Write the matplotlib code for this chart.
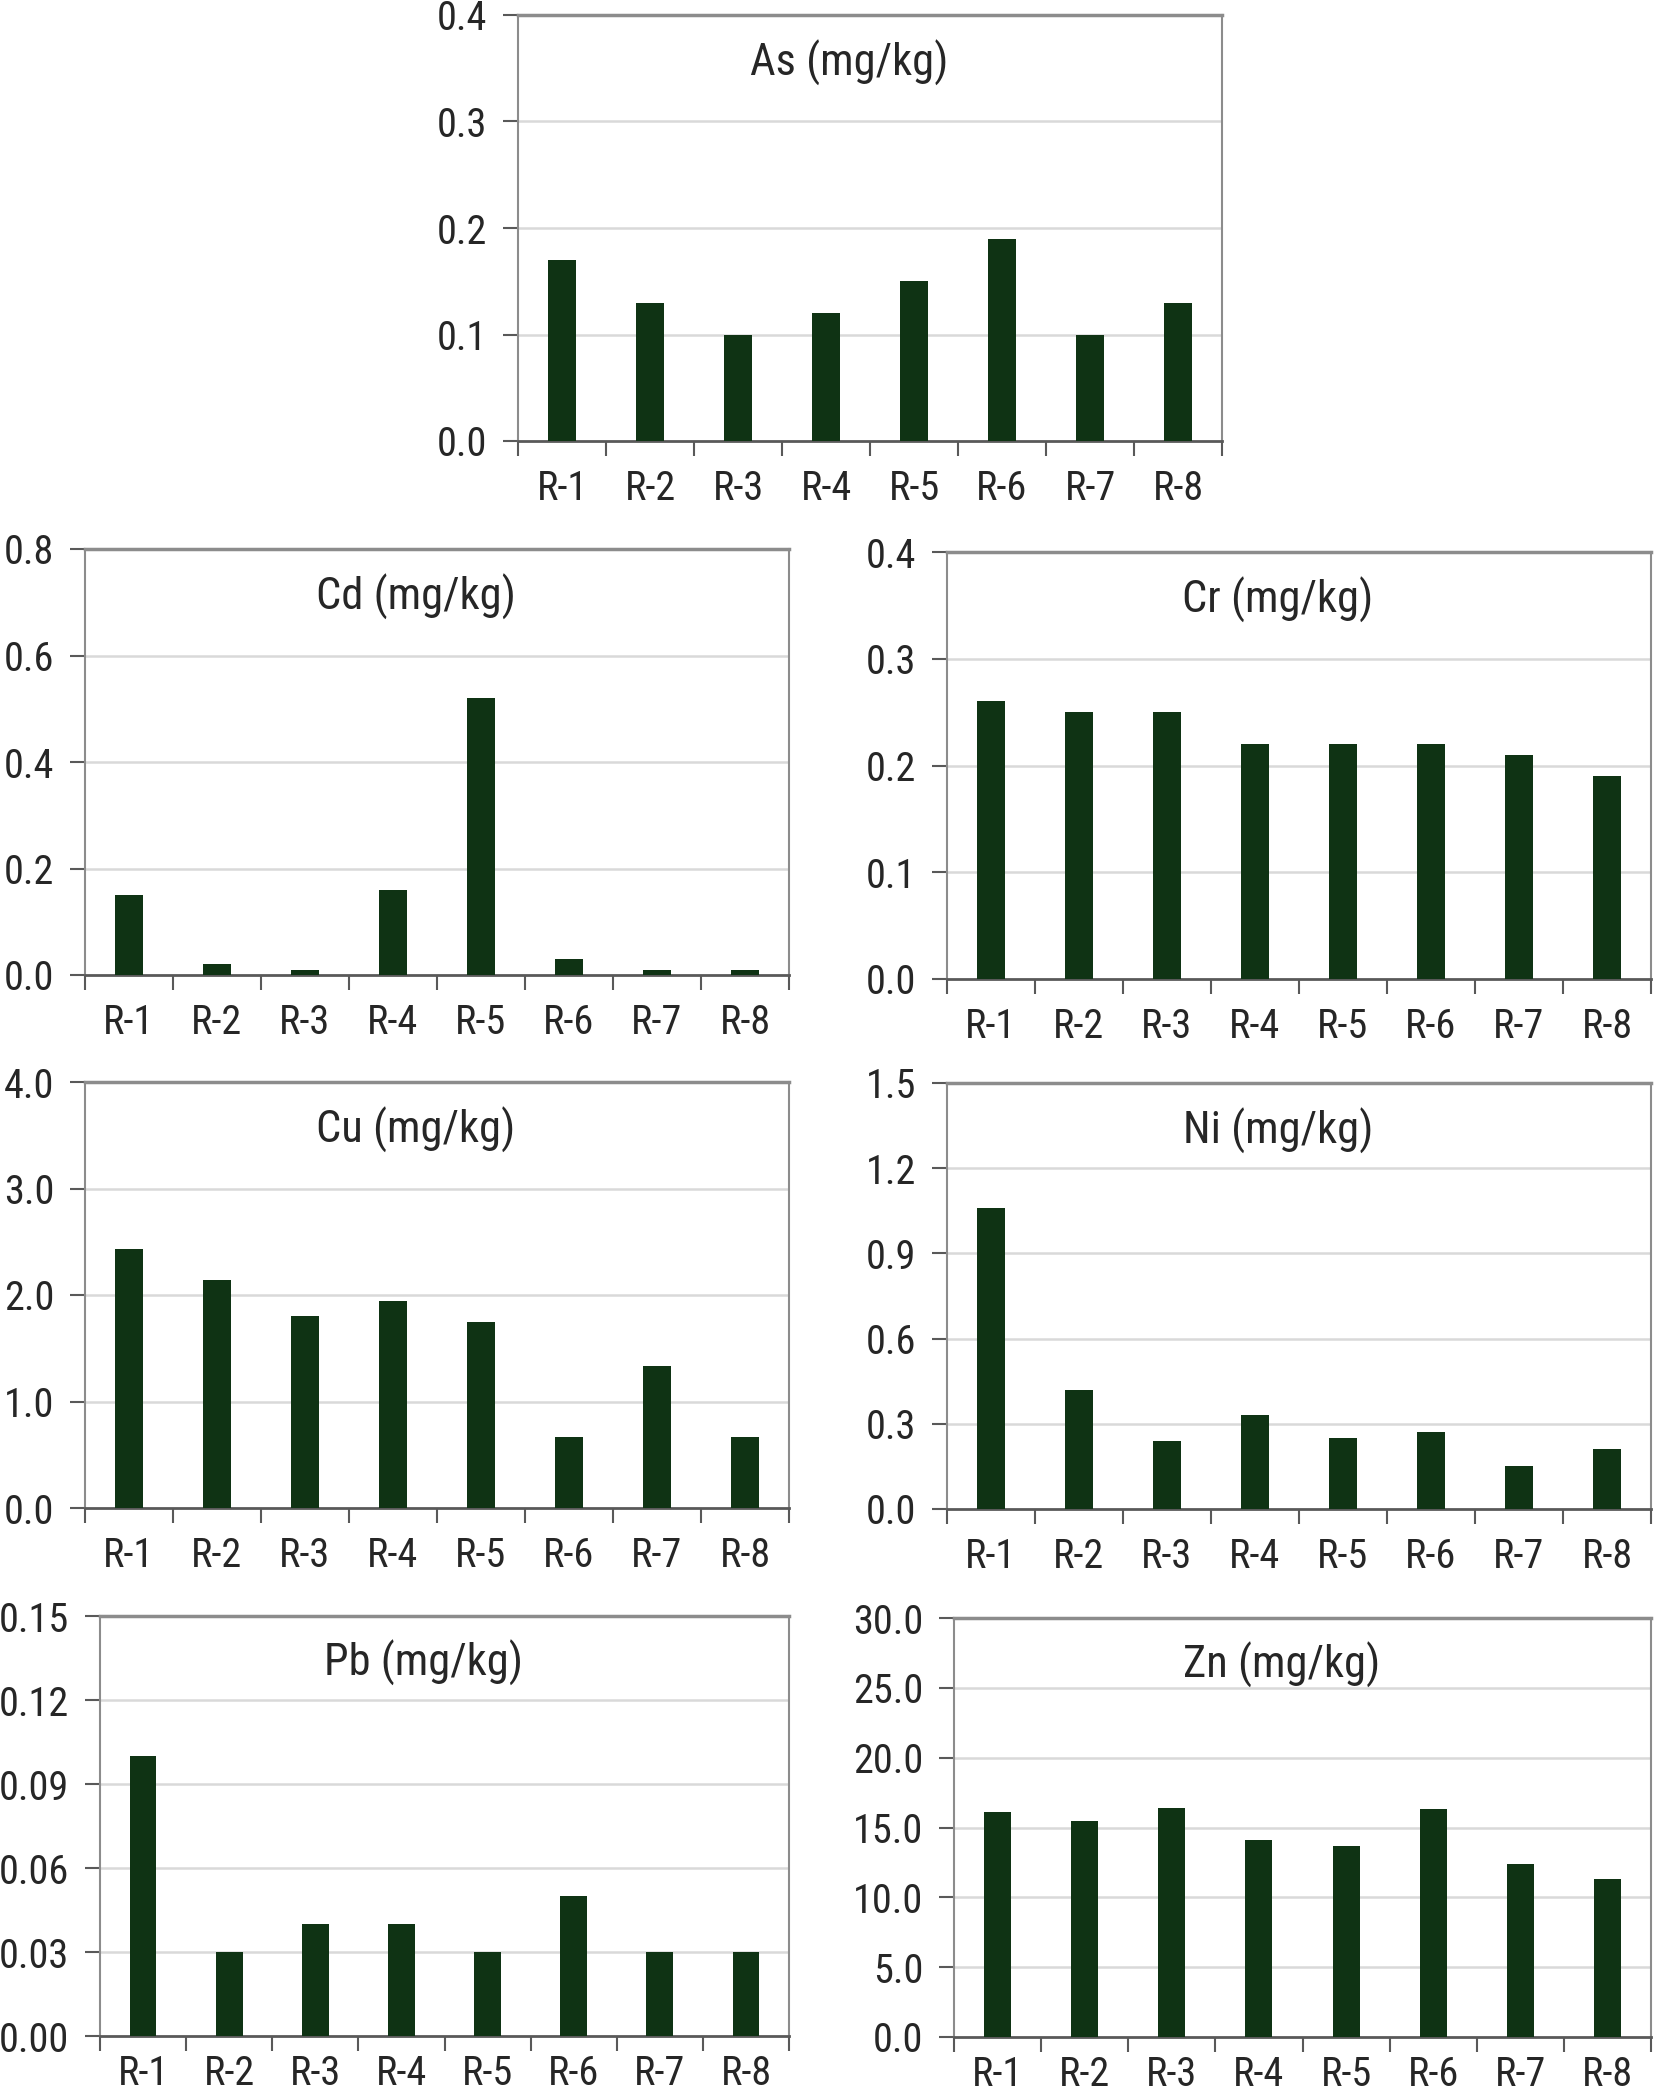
import matplotlib
matplotlib.use("Agg")
import matplotlib.pyplot as plt
from matplotlib import font_manager as fm
from matplotlib.ticker import FixedLocator, FormatStrFormatter
import numpy as np

sites = ["R-1", "R-2", "R-3", "R-4", "R-5", "R-6", "R-7", "R-8"]

as_vals = [0.17, 0.13, 0.10, 0.12, 0.15, 0.19, 0.10, 0.13]
cd_vals = [0.15, 0.02, 0.01, 0.16, 0.52, 0.03, 0.01, 0.01]
cr_vals = [0.26, 0.25, 0.25, 0.22, 0.22, 0.22, 0.21, 0.19]
cu_vals = [2.43, 2.14, 1.80, 1.94, 1.75, 0.67, 1.33, 0.67]
ni_vals = [1.06, 0.42, 0.24, 0.33, 0.25, 0.27, 0.15, 0.21]
pb_vals = [0.10, 0.03, 0.04, 0.04, 0.03, 0.05, 0.03, 0.03]
zn_vals = [16.1, 15.5, 16.4, 14.1, 13.7, 16.3, 12.4, 11.3]

titles = ["As (mg/kg)", "Cd (mg/kg)", "Cr (mg/kg)", "Cu (mg/kg)",
          "Ni (mg/kg)", "Pb (mg/kg)", "Zn (mg/kg)"]
series = [as_vals, cd_vals, cr_vals, cu_vals, ni_vals, pb_vals, zn_vals]
y_max = [0.4, 0.8, 0.4, 4.0, 1.5, 0.15, 30.0]
y_step = [0.1, 0.2, 0.1, 1.0, 0.3, 0.03, 5.0]
y_fmt = ["%.1f", "%.1f", "%.1f", "%.1f", "%.1f", "%.2f", "%.1f"]

# pick a narrow / condensed sans font if one is installed
cands = []
for f in fm.fontManager.ttflist:
    nm = f.name.lower()
    fn = f.fname.lower().split("/")[-1]
    if f.style != "normal" or f.weight not in (400, "normal", "regular"):
        continue
    if ("narrow" in nm or "condensed" in nm or "condensed" in str(f.stretch)
            or "condensed" in fn or "narrow" in fn):
        if any(k in fn for k in ("semi", "extra", "bold", "light", "oblique", "italic", "medium", "thin", "black")):
            continue
        cands.append(f)
pref = ["roboto", "liberation", "dejavu", "open", "noto", "lato", "inter"]
cands.sort(key=lambda f: next((i for i, p in enumerate(pref) if p in f.name.lower()), 99))
if cands:
    fprop = fm.FontProperties(fname=cands[0].fname)
    fs = 29
else:
    fprop = fm.FontProperties(family="Roboto")
    fs = 26

# axes boxes in pixels: left, right, top, bottom
boxes = [
    (518, 1222, 15, 441),
    (85, 789, 549, 975),
    (947, 1651, 552, 979),
    (85, 789, 1082, 1508),
    (947, 1651, 1083, 1509),
    (100, 789, 1616, 2036),
    (954, 1651, 1618, 2037),
]
xpads = [20, 20, 20, 20, 20, 13, 13]

W, H = 1655, 2095
fig = plt.figure(figsize=(W / 100, H / 100), dpi=100)
fig.patch.set_facecolor("white")

bar_color = "#0f3314"
grid_color = "#d9d9d9"
frame_color = "#8c8c8c"
text_color = "#262626"

for vals, title, ymax, step, fmt, (l, r, t, b), xp in zip(series, titles, y_max, y_step, y_fmt, boxes, xpads):
    ax = fig.add_axes([l / W, 1 - b / H, (r - l) / W, (b - t) / H])
    x = np.arange(len(sites))
    ax.bar(x, vals, width=0.31, color=bar_color, zorder=3)
    ax.set_xlim(-0.5, len(sites) - 0.5)
    ax.set_ylim(0, ymax)
    yt = np.arange(0, ymax + step / 2, step)
    ax.set_yticks(yt)
    ax.yaxis.set_major_formatter(FormatStrFormatter(fmt))
    ax.set_xticks(x)
    ax.set_xticklabels(sites)
    ax.xaxis.set_minor_locator(FixedLocator(np.arange(-0.5, len(sites), 1.0)))
    ax.tick_params(axis="x", which="major", length=0, pad=xp, colors=text_color)
    ax.tick_params(axis="x", which="minor", length=11, width=1.5, color="#595959", direction="out")
    ax.tick_params(axis="y", length=11, width=1.5, color="#595959", pad=11, labelcolor=text_color)
    for lab in ax.get_xticklabels() + ax.get_yticklabels():
        lab.set_fontproperties(fprop)
        lab.set_fontsize(fs)
    for yv in yt[1:-1]:
        ax.axhline(yv, color=grid_color, lw=1.8, zorder=1)
    for side in ["left", "right", "top"]:
        ax.spines[side].set_color(frame_color)
        ax.spines[side].set_linewidth(1.5)
    ax.spines["top"].set_linewidth(2.5)
    ax.spines["bottom"].set_color("#595959")
    ax.spines["bottom"].set_linewidth(2)
    ax.text(0.47, 0.887, title, transform=ax.transAxes, ha="center", va="center",
            fontproperties=fprop, fontsize=fs + 3, color=text_color)

fig.savefig("out.png", dpi=100, facecolor="white")
